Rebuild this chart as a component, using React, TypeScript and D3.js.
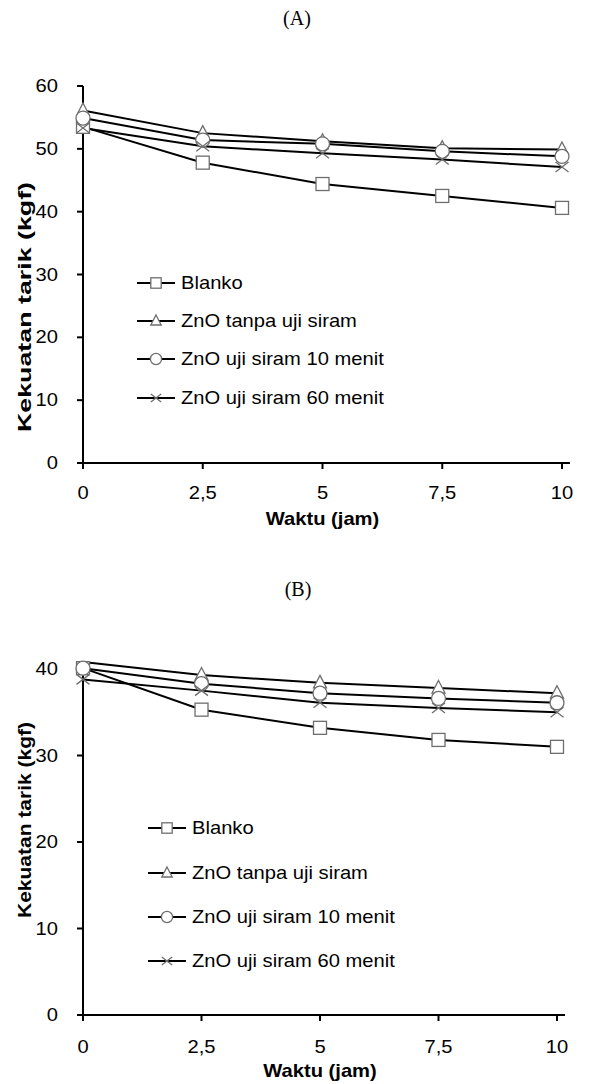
import React from "react";
import * as d3 from "d3";

const W = 592;
const H = 1084;

const waktu = [0, 2.5, 5, 7.5, 10];
const xTickLabels = ["0", "2,5", "5", "7,5", "10"];
const seriesNames = ["Blanko", "ZnO tanpa uji siram", "ZnO uji siram 10 menit", "ZnO uji siram 60 menit"];
const markerTypes = ["square", "triangle", "circle", "cross"];

// (A)
const blankoA = [53.5, 47.8, 44.4, 42.5, 40.6];
const tanpaA = [56.1, 52.5, 51.2, 50.1, 49.9];
const siram10A = [54.9, 51.4, 50.8, 49.6, 48.8];
const siram60A = [53.3, 50.4, 49.3, 48.3, 47.1];
const yTicksA = [0, 10, 20, 30, 40, 50, 60];

// (B)
const blankoB = [40.1, 35.3, 33.2, 31.8, 31.0];
const tanpaB = [40.8, 39.3, 38.4, 37.8, 37.2];
const siram10B = [40.1, 38.3, 37.2, 36.6, 36.1];
const siram60B = [38.8, 37.5, 36.1, 35.5, 35.0];
const yTicksB = [0, 10, 20, 30, 40];

const sans = "'Liberation Sans', Arial, sans-serif";
const markStroke = "#6e6e6e";
const fs = 18;
const sx = 1.12; // the original's text is a little wide

function T({ x, y, anchor = "start", bold = false, children }) {
  return (
    <text
      transform={`translate(${x},${y}) scale(${sx},1)`}
      textAnchor={anchor}
      dominantBaseline="central"
      fontFamily={sans}
      fontSize={fs}
      fontWeight={bold ? "bold" : "normal"}
    >
      {children}
    </text>
  );
}

function Marker({ type, x, y, s = 1 }) {
  const common = { fill: "white", stroke: markStroke, strokeWidth: 1.3 };
  if (type === "square")
    return <rect x={x - 6.5 * s} y={y - 6.5 * s} width={13 * s} height={13 * s} {...common} />;
  if (type === "circle") return <circle cx={x} cy={y} r={7 * s} {...common} />;
  if (type === "triangle")
    return (
      <path
        d={`M${x},${y - 7.5 * s}L${x + 6.5 * s},${y + 5 * s}L${x - 6.5 * s},${y + 5 * s}Z`}
        {...common}
      />
    );
  return (
    <path
      d={`M${x - 6.5 * s},${y - 5 * s}L${x + 6.5 * s},${y + 5 * s}M${x - 6.5 * s},${y + 5 * s}L${x + 6.5 * s},${y - 5 * s}`}
      fill="none"
      stroke={markStroke}
      strokeWidth={1.3}
    />
  );
}

function Panel({ label, labelX, labelY, series, yTicks, yTop, yBottom, xRight, axisEnd, legendX, legendYs, yTitleY, yTitleLen, xLabelY, xTitleY }) {
  const x = d3.scaleLinear().domain([0, 10]).range([83, xRight]);
  const yMax = yTicks[yTicks.length - 1];
  const y = d3.scaleLinear().domain([0, yMax]).range([yBottom, yTop]);
  const line = d3
    .line<number>()
    .x((_, i) => x(waktu[i]))
    .y(d => y(d));
  const xMid = (83 + xRight) / 2;

  return (
    <g>
      <text x={labelX} y={labelY} textAnchor="middle" dominantBaseline="central" fontFamily="'Liberation Serif', 'Times New Roman', serif" fontSize={20}>
        {label}
      </text>

      {/* axes */}
      <line x1={83} x2={83} y1={yTop} y2={yBottom} stroke="black" strokeWidth={2} />
      <line x1={77} x2={axisEnd} y1={yBottom} y2={yBottom} stroke="black" strokeWidth={2} />
      {yTicks.map(t => (
        <g key={t}>
          <line x1={77} x2={83} y1={y(t)} y2={y(t)} stroke="black" strokeWidth={2} />
          <T x={58} y={y(t)} anchor="end">{t}</T>
        </g>
      ))}
      {waktu.map((w, i) => (
        <g key={w}>
          <line x1={x(w)} x2={x(w)} y1={yBottom} y2={yBottom + 6} stroke="black" strokeWidth={2} />
          <T x={x(w)} y={xLabelY} anchor="middle">{xTickLabels[i]}</T>
        </g>
      ))}
      <T x={xMid} y={xTitleY} anchor="middle" bold>Waktu (jam)</T>
      <text
        transform={`translate(25,${yTitleY}) rotate(-90)`}
        textAnchor="middle"
        dominantBaseline="central"
        fontFamily={sans}
        fontWeight="bold"
        fontSize={fs}
        textLength={yTitleLen}
        lengthAdjust="spacingAndGlyphs"
      >
        Kekuatan tarik (kgf)
      </text>

      {/* lines */}
      {series.map((s, k) => (
        <path key={k} d={line(s)} fill="none" stroke="black" strokeWidth={2} />
      ))}
      {/* markers, hidden above the axis maximum like the original */}
      {series.map((s, k) =>
        s.map((v, i) =>
          v > yMax + 0.5 ? null : <Marker key={`${k}-${i}`} type={markerTypes[k]} x={x(waktu[i])} y={y(v)} />
        )
      )}

      {/* legend */}
      {seriesNames.map((n, k) => (
        <g key={n}>
          <line x1={legendX} x2={legendX + 38} y1={legendYs[k]} y2={legendYs[k]} stroke="black" strokeWidth={2} />
          <Marker type={markerTypes[k]} x={legendX + 19} y={legendYs[k]} s={0.8} />
          <T x={legendX + 44} y={legendYs[k]}>{n}</T>
        </g>
      ))}
    </g>
  );
}

export default function App() {
  return (
    <svg width={W} height={H} style={{ position: "absolute", left: 0, top: 0, background: "white" }}>
      <rect width={W} height={H} fill="white" />
      <Panel
        label="(A)"
        labelX={297}
        labelY={18}
        series={[blankoA, tanpaA, siram10A, siram60A]}
        yTicks={yTicksA}
        yTop={86}
        yBottom={463}
        xRight={562}
        axisEnd={570}
        legendX={137}
        legendYs={[283, 321, 359, 398]}
        yTitleY={307}
        yTitleLen={250}
        xLabelY={493}
        xTitleY={519}
      />
      <Panel
        label="(B)"
        labelX={298}
        labelY={589}
        series={[blankoB, tanpaB, siram10B, siram60B]}
        yTicks={yTicksB}
        yTop={669}
        yBottom={1015}
        xRight={557}
        axisEnd={565}
        legendX={148}
        legendYs={[828, 873, 917, 961]}
        yTitleY={820}
        yTitleLen={196}
        xLabelY={1047}
        xTitleY={1071}
      />
    </svg>
  );
}
